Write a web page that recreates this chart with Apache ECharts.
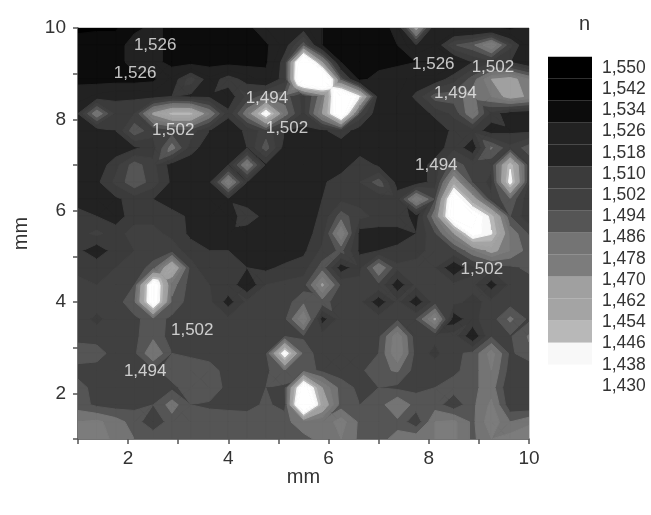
<!DOCTYPE html>
<html><head><meta charset="utf-8">
<style>html,body{margin:0;padding:0;background:#fff}#c{width:651px;height:515px;filter:blur(0.55px)}</style>
<script src="https://cdn.jsdelivr.net/npm/echarts@6/dist/echarts.min.js"></script>
</head><body><div id="c"></div>
<script>
// Refractive index n, read on a 25 x 25 measurement grid (step 0.375 mm). row00 is y = 10 mm, row24 is y = 1 mm.
const gridX=[1,1.375,1.75,2.125,2.5,2.875,3.25,3.625,4,4.375,4.75,5.125,5.5,5.875,6.25,6.625,7,7.375,7.75,8.125,8.5,8.875,9.25,9.625,10];
const gridY=[10,9.625,9.25,8.875,8.5,8.125,7.75,7.375,7,6.625,6.25,5.875,5.5,5.125,4.75,4.375,4,3.625,3.25,2.875,2.5,2.125,1.75,1.375,1];
const row00=[1536,1535,1535,1528,1524,1528,1528,1528,1530,1530,1518,1518,1515,1526,1530,1532,1532,1522,1465,1522,1526,1526,1526,1528,1524];
const row01=[1530,1530,1530,1522,1522,1530,1530,1530,1530,1530,1528,1515,1490,1526,1530,1532,1532,1526,1510,1518,1495,1488,1470,1500,1522];
const row02=[1530,1530,1530,1522,1522,1530,1530,1530,1530,1530,1528,1505,1400,1470,1526,1532,1532,1528,1526,1526,1522,1510,1505,1510,1520];
const row03=[1528,1530,1530,1530,1528,1516,1498,1516,1505,1514,1522,1505,1395,1390,1490,1530,1520,1520,1516,1516,1505,1490,1470,1465,1478];
const row04=[1522,1516,1512,1512,1514,1510,1512,1512,1516,1500,1490,1490,1505,1480,1410,1445,1518,1518,1508,1490,1490,1482,1478,1465,1472];
const row05=[1510,1478,1505,1502,1468,1452,1452,1478,1508,1480,1435,1482,1505,1470,1415,1495,1518,1518,1516,1508,1500,1478,1505,1516,1518];
const row06=[1518,1516,1510,1488,1500,1498,1498,1510,1516,1508,1498,1510,1512,1512,1505,1515,1518,1518,1518,1516,1508,1505,1515,1512,1512];
const row07=[1518,1518,1516,1512,1505,1482,1506,1516,1516,1510,1490,1514,1516,1516,1516,1516,1516,1516,1516,1516,1504,1516,1485,1500,1490];
const row08=[1518,1516,1505,1490,1500,1514,1516,1516,1510,1475,1512,1516,1516,1516,1516,1504,1512,1516,1516,1506,1490,1498,1500,1448,1500];
const row09=[1518,1512,1500,1488,1498,1512,1516,1512,1470,1510,1516,1516,1516,1512,1504,1502,1490,1514,1516,1506,1460,1495,1505,1440,1502];
const row10=[1516,1516,1512,1506,1510,1516,1516,1516,1512,1516,1516,1516,1516,1510,1504,1504,1508,1506,1470,1495,1420,1462,1500,1488,1508];
const row11=[1505,1510,1514,1506,1504,1506,1512,1514,1516,1504,1514,1516,1516,1508,1490,1500,1504,1504,1514,1480,1420,1425,1450,1494,1508];
const row12=[1505,1500,1506,1498,1500,1504,1512,1514,1514,1516,1516,1516,1514,1506,1470,1514,1514,1514,1510,1495,1470,1432,1445,1480,1495];
const row13=[1508,1516,1506,1502,1500,1498,1506,1510,1510,1514,1516,1516,1512,1500,1492,1512,1510,1508,1504,1500,1496,1480,1466,1478,1490];
const row14=[1504,1504,1502,1500,1490,1455,1498,1510,1506,1510,1512,1508,1506,1490,1515,1504,1478,1500,1500,1502,1518,1504,1500,1496,1492];
const row15=[1500,1502,1500,1494,1425,1482,1498,1502,1504,1518,1502,1500,1498,1468,1496,1500,1496,1516,1500,1500,1500,1500,1514,1500,1498];
const row16=[1498,1498,1498,1488,1425,1488,1498,1500,1514,1500,1500,1498,1488,1490,1500,1500,1516,1500,1516,1498,1500,1504,1500,1498,1496];
const row17=[1498,1504,1498,1496,1490,1496,1498,1498,1500,1500,1498,1496,1470,1514,1498,1498,1498,1496,1494,1468,1516,1504,1498,1484,1496];
const row18=[1498,1498,1498,1496,1488,1498,1498,1498,1498,1498,1496,1495,1495,1498,1498,1498,1496,1472,1500,1500,1498,1518,1495,1495,1485];
const row19=[1488,1490,1498,1496,1478,1494,1496,1498,1498,1498,1496,1435,1490,1498,1496,1498,1494,1470,1498,1504,1496,1492,1474,1496,1488];
const row20=[1498,1498,1498,1496,1496,1490,1488,1490,1498,1498,1496,1486,1490,1496,1498,1496,1488,1485,1498,1498,1496,1490,1478,1498,1502];
const row21=[1490,1498,1498,1498,1498,1496,1490,1486,1498,1498,1494,1496,1420,1470,1490,1496,1494,1496,1496,1494,1490,1488,1482,1502,1502];
const row22=[1490,1496,1498,1496,1494,1482,1494,1496,1497,1498,1492,1498,1400,1460,1490,1494,1490,1478,1490,1490,1500,1488,1476,1500,1502];
const row23=[1478,1476,1482,1490,1500,1490,1488,1488,1488,1488,1486,1488,1482,1484,1474,1488,1490,1488,1500,1478,1476,1488,1472,1486,1480];
const row24=[1474,1474,1480,1486,1488,1488,1488,1488,1488,1488,1488,1488,1488,1484,1478,1488,1488,1484,1480,1478,1476,1488,1478,1474,1470];
const nGrid=[row00,row01,row02,row03,row04,row05,row06,row07,row08,row09,row10,row11,row12,row13,row14,row15,row16,row17,row18,row19,row20,row21,row22,row23,row24];

// Legend levels, top to bottom, and their greys
const levelLabels=['1,550','1,542','1,534','1,526','1,518','1,510','1,502','1,494','1,486','1,478','1,470','1,462','1,454','1,446','1,438','1,430'];
const levelLow=[1542,1534,1526,1518,1510,1502,1494,1486,1478,1470,1462,1454,1446,1438,1430,-Infinity];
const levelHigh=[Infinity,1542,1534,1526,1518,1510,1502,1494,1486,1478,1470,1462,1454,1446,1438,1430];
const levelColors=['#000000','#000000','#0c0c0c','#222222','#222222','#3b3b3b','#404040','#555555','#747474','#7c7c7c','#a0a0a0','#a4a4a4','#b8b8b8','#f8f8f8','#ffffff','#ffffff'];

// Contour labels drawn on the map
const contourLabelX=[2.54,2.14,4.77,5.17,2.90,8.09,9.28,8.53,8.15,9.06,3.28,2.34];
const contourLabelY=[9.61,9.01,8.47,7.81,7.77,9.21,9.15,8.58,7.0,4.72,3.37,2.49];
const contourLabelText=['1,526','1,526','1,494','1,502','1,502','1,526','1,502','1,494','1,494','1,502','1,502','1,494'];

const FONT='"Liberation Sans", Arial, sans-serif';
const TXT='#333333';

const cells=[];
for(let r=0;r<gridY.length-1;r++)for(let c=0;c<gridX.length-1;c++)cells.push([gridX[c],gridY[r],r,c]);

// Clip a polygon [x,y,v] to one side of a level, interpolating along each edge.
function clip(poly,level,keepAbove){
  const out=[];
  for(let i=0;i<poly.length;i++){
    const a=poly[i],b=poly[(i+1)%poly.length];
    const ina=keepAbove?a[2]>=level:a[2]<=level, inb=keepAbove?b[2]>=level:b[2]<=level;
    if(ina)out.push(a);
    if(ina!==inb){const t=(level-a[2])/(b[2]-a[2]);out.push([a[0]+t*(b[0]-a[0]),a[1]+t*(b[1]-a[1]),level]);}
  }
  return out;
}
// A saddle cell is split through its centre, so isolated bright and dark spots stay apart.
function cellPieces(q){
  const [a,b,c,d]=q;
  const hiAC=Math.min(a[2],c[2])>Math.max(b[2],d[2]), hiBD=Math.min(b[2],d[2])>Math.max(a[2],c[2]);
  if(!hiAC&&!hiBD)return [q];
  const hiMean=hiAC?(a[2]+c[2])/2:(b[2]+d[2])/2, loMean=hiAC?(b[2]+d[2])/2:(a[2]+c[2])/2;
  const v=loMean>=1490?loMean:(loMean>=1450?hiMean:(hiMean+loMean)/2);
  const m=[(a[0]+b[0])/2,(a[1]+d[1])/2,v];
  return [[a,b,m],[b,c,m],[c,d,m],[d,a,m]];
}
function renderCell(params,api){
  const r=api.value(2),c=api.value(3);
  const corner=(rr,cc)=>[gridX[cc],gridY[rr],nGrid[rr][cc]];
  const quad=[corner(r,c),corner(r,c+1),corner(r+1,c+1),corner(r+1,c)];
  const children=[];
  cellPieces(quad).forEach(piece=>{
    levelColors.forEach((color,i)=>{
      let p=piece;
      if(isFinite(levelLow[i]))p=clip(p,levelLow[i],true);
      if(p.length&&isFinite(levelHigh[i]))p=clip(p,levelHigh[i],false);
      if(p.length<3)return;
      children.push({type:'polygon',shape:{points:p.map(q=>api.coord([q[0],q[1]]))},style:{fill:color,stroke:color,lineWidth:1}});
    });
  });
  return {type:'group',children};
}

const chart=echarts.init(document.getElementById('c'),null,{renderer:'canvas'});
const tickText={color:TXT,fontFamily:FONT,fontSize:19};
const nameText={color:TXT,fontFamily:FONT,fontSize:20};
const legendText={color:TXT,fontFamily:FONT,fontSize:17.5};
chart.setOption({
  animation:false,
  backgroundColor:'#ffffff',
  title:{text:'n',left:574,top:9,textStyle:{color:TXT,fontFamily:FONT,fontSize:20,fontWeight:'normal'}},
  grid:[
    {left:78,top:28,width:451,height:411,show:true,borderColor:'#999999',borderWidth:1,backgroundColor:'#222222'},
    {left:548,top:56.7,width:44,height:352},
    {left:548,top:57.4,width:50,height:339.2}
  ],
  xAxis:[
    {gridIndex:0,type:'value',min:1,max:10,interval:1,name:'mm',nameLocation:'middle',nameGap:28,nameMoveOverlap:false,nameTextStyle:nameText,
     axisLine:{onZero:false,lineStyle:{color:'#555555',width:1.5}},axisTick:{length:5,lineStyle:{color:'#555555',width:1.5}},splitLine:{show:false},
     axisLabel:{...tickText,margin:10,formatter:v=>v%2===0?String(v):''}},
    {gridIndex:1,type:'value',min:0,max:1,show:false},
    {gridIndex:2,type:'value',min:0,max:1,show:false}
  ],
  yAxis:[
    {gridIndex:0,type:'value',min:1,max:10,interval:1,name:'mm',nameLocation:'middle',nameGap:47,nameMoveOverlap:false,nameTextStyle:nameText,
     axisLine:{onZero:false,lineStyle:{color:'#555555',width:1.5}},axisTick:{length:5,lineStyle:{color:'#555555',width:1.5}},splitLine:{show:false},
     axisLabel:{...tickText,margin:12,formatter:v=>v%2===0?String(v):''}},
    {gridIndex:1,type:'category',inverse:true,data:levelLabels,show:false},
    {gridIndex:2,type:'category',inverse:true,data:levelLabels,position:'right',
     axisLine:{show:false},axisTick:{show:false},axisLabel:{...legendText,margin:4,align:'left',interval:0}}
  ],
  series:[
    {type:'custom',xAxisIndex:0,yAxisIndex:0,coordinateSystem:'cartesian2d',silent:true,clip:true,renderItem:renderCell,
     encode:{x:0,y:1},data:cells,z:2},
    {type:'bar',xAxisIndex:1,yAxisIndex:1,silent:true,barCategoryGap:0,barWidth:'100%',
     data:levelColors.map(color=>({value:1,itemStyle:{color}}))},
    {type:'scatter',xAxisIndex:0,yAxisIndex:0,silent:true,symbolSize:0,z:5,
     data:contourLabelText.map((t,i)=>({value:[contourLabelX[i],contourLabelY[i]],name:t})),
     label:{show:true,position:'inside',formatter:p=>p.name,color:'#f0f0f0',fontFamily:FONT,fontSize:17}}
  ]
});
</script></body></html>
